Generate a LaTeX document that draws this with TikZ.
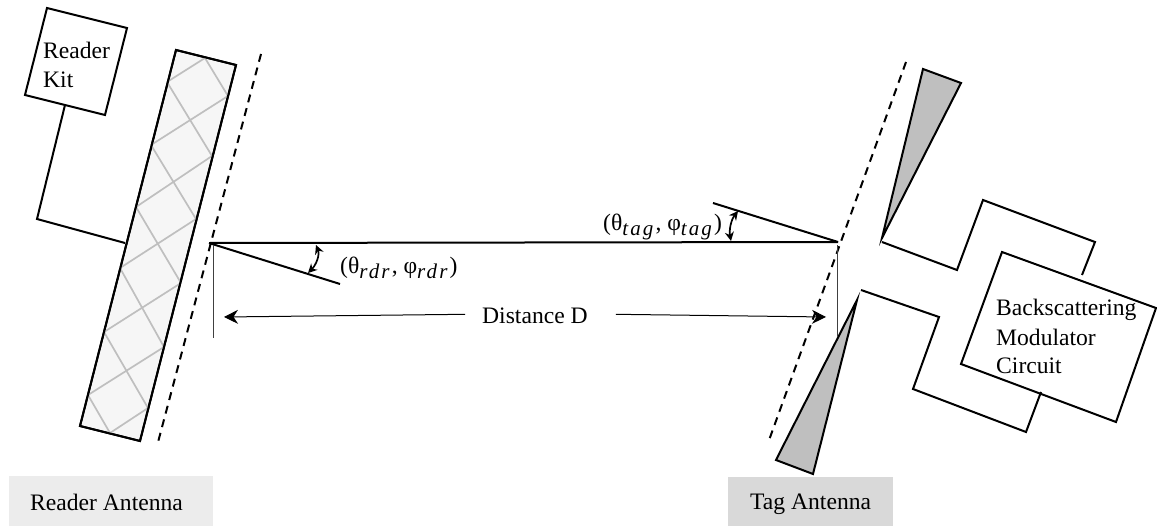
\documentclass[tikz,border=0pt]{standalone}
\usepackage{fontspec}
\setmainfont{Liberation Serif}
\usetikzlibrary{arrows.meta}
\definecolor{panelgrey}{HTML}{F6F6F6}
\definecolor{hatchgrey}{HTML}{BFBFBF}
\definecolor{readergrey}{HTML}{ECECEC}
\definecolor{taggrey}{HTML}{D9D9D9}
\newcommand{\subtext}[1]{\raisebox{-5pt}{\fontsize{21}{21}\selectfont\addfontfeature{LetterSpace=10}\textit{#1}}}

\begin{document}
\begin{tikzpicture}[
  wire/.style={line width=2pt,line join=miter},
  hatch/.style={line width=1.7pt,hatchgrey},
  plane/.style={line width=2pt,dash pattern=on 8pt off 6pt},
  thinline/.style={line width=1pt,black!75},
  distarrow/.style={line width=1pt,-{Stealth[length=14pt,width=14pt]}},
  anglearrow/.style={line width=1.7pt,{Stealth[length=9pt,width=9pt]}-{Stealth[length=9pt,width=9pt]}},
  label/.style={inner sep=0pt,anchor=base west,font=\fontsize{23.6}{29}\selectfont}]
\useasboundingbox (0pt,0pt) rectangle (1157pt,-527pt);

% reader side
\draw[wire] (47pt,-8pt) -- (127pt,-28pt) -- (105pt,-115pt) -- (25pt,-95pt) -- cycle;
\node[label] (readertext) at (43pt,-59pt) {Reader};
\node[label] (kittext) at (43pt,-88pt) {Kit};
\draw[wire] (65pt,-105pt) -- (37pt,-219pt) -- (125pt,-243pt);

\filldraw[wire,fill=panelgrey] (176pt,-50pt) -- (236pt,-65pt) -- (140pt,-441pt) -- (80pt,-426pt) -- cycle;
\draw[hatch] (167pt,-82pt) -- (205pt,-58pt) -- (228pt,-96pt) -- (151pt,-145pt) -- (196pt,-219pt) -- (120pt,-268pt) -- (164pt,-347pt) -- (88pt,-395pt) -- (110pt,-433pt) -- (148pt,-408pt) -- (104pt,-332pt) -- (181pt,-283pt) -- (136pt,-207pt) -- (212pt,-156pt) -- (167pt,-82pt);
\draw[wire] (176pt,-50pt) -- (236pt,-65pt) -- (140pt,-441pt) -- (80pt,-426pt) -- cycle;
\draw[plane] (261pt,-54pt) -- (157pt,-446pt);

% tag side
\draw[plane] (906pt,-62pt) -- (768pt,-443pt);
\filldraw[wire,fill=hatchgrey] (923pt,-69pt) -- (961pt,-83pt) -- (882pt,-238pt) -- cycle;
\filldraw[wire,fill=hatchgrey] (857pt,-300pt) -- (776pt,-460pt) -- (813pt,-474pt) -- cycle;
\draw[wire] (882pt,-242pt) -- (957pt,-270pt) -- (983pt,-200pt) -- (1095pt,-242pt) -- (1082pt,-275pt);
\draw[wire] (861pt,-290pt) -- (939pt,-317pt) -- (913pt,-389pt) -- (1026pt,-432pt) -- (1041pt,-392pt);
\draw[wire] (1002pt,-252pt) -- (1156pt,-308pt) -- (1116pt,-422pt) -- (961pt,-364pt) -- cycle;
\node[label] (backtext) at (996pt,-315pt) {Backscattering};
\node[label] (modtext) at (996pt,-345pt) {Modulator};
\node[label] (circtext) at (996pt,-373pt) {Circuit};

% link between the antennas
\coordinate (rdrorigin) at (209pt,-243pt);
\coordinate (tagorigin) at (838pt,-242pt);
\draw[wire] (rdrorigin) -- (tagorigin);
\draw[wire] (rdrorigin) -- (340pt,-284pt);
\draw[wire] (tagorigin) -- (713pt,-203pt);
\draw[anglearrow] (316pt,-245pt) .. controls (320pt,-255pt) and (316pt,-265pt) .. (308pt,-273pt);
\draw[anglearrow] (738pt,-211pt) .. controls (731pt,-220pt) and (729pt,-230pt) .. (731pt,-241pt);
\node[label] (rdrangle) at (340pt,-273pt) {(θ\subtext{rdr}, φ\subtext{rdr})};
\node[label] (tagangle) at (603pt,-230pt) {(θ\subtext{tag}, φ\subtext{tag})};

% distance
\draw[thinline] (213pt,-245pt) -- (213pt,-338pt);
\draw[thinline] (837pt,-245pt) -- (837pt,-337pt);
\node[label] (dist) at (482pt,-323pt) {Distance D};
\coordinate (distleft) at (224pt,-317pt);
\coordinate (distright) at (826pt,-317pt);
\draw[distarrow] ([xshift=-17pt,yshift=1pt]dist.west) -- (distleft);
\draw[distarrow] ([xshift=28pt,yshift=1pt]dist.east) -- (distright);

% captions
\fill[readergrey] (9pt,-476pt) rectangle (213pt,-526pt);
\fill[taggrey] (728pt,-477pt) rectangle (893pt,-526pt);
\node[label] (readercap) at (30pt,-510pt) {Reader Antenna};
\node[label] (tagcap) at (750pt,-509pt) {Tag Antenna};
\end{tikzpicture}
\end{document}
